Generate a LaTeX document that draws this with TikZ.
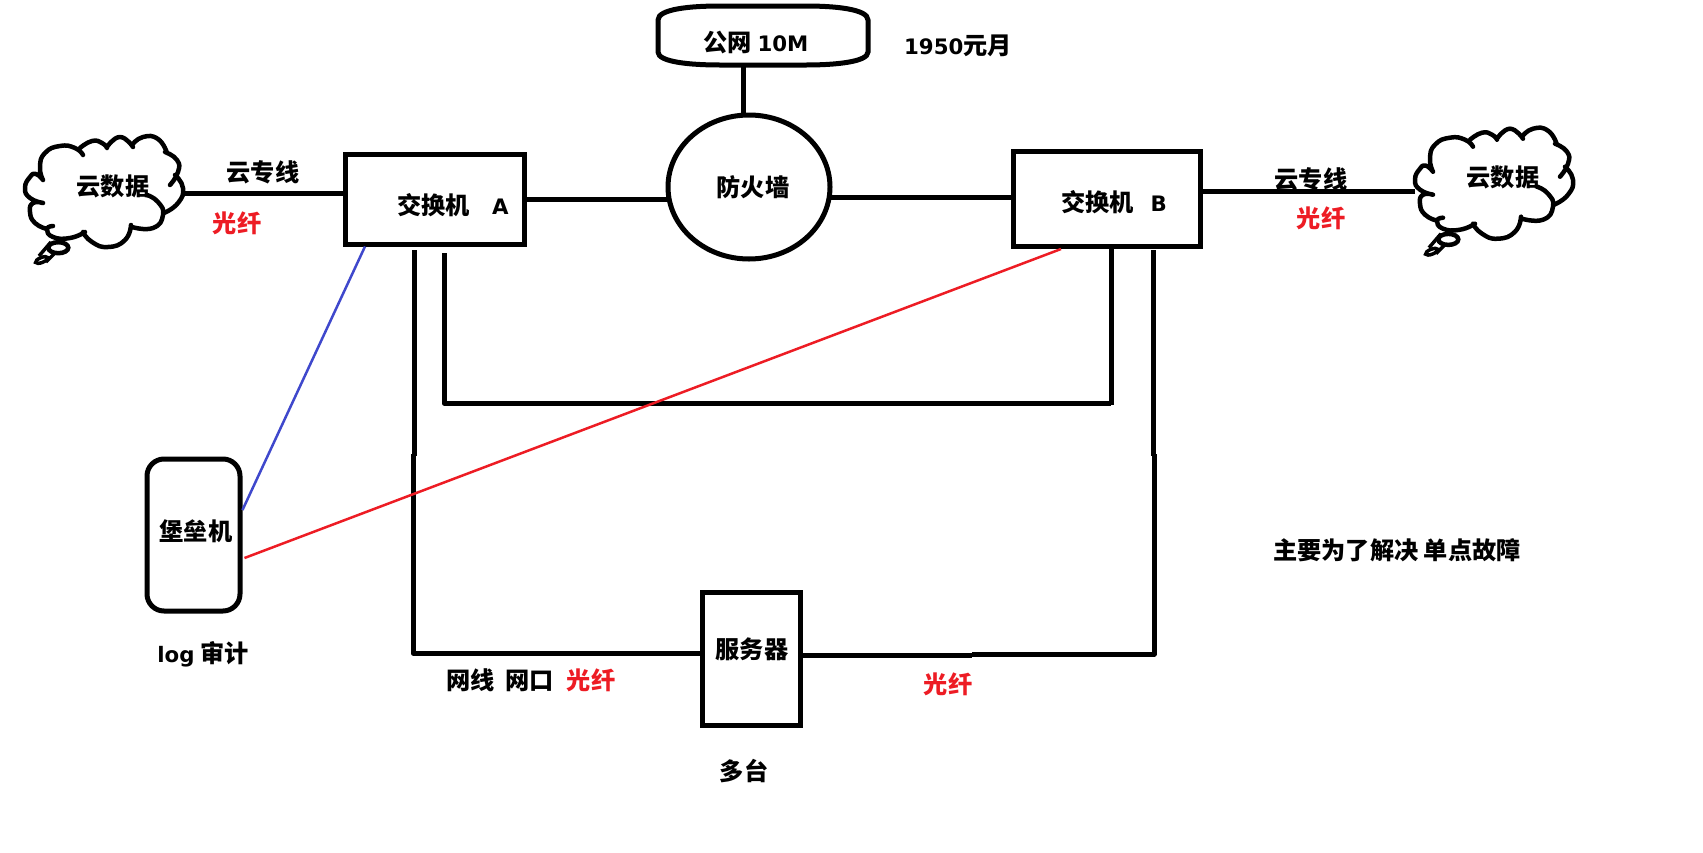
\documentclass[tikz,border=0pt]{standalone}
\usepackage{fontspec}
\usepackage{color}
\setmainfont{Noto Sans CJK SC}
\newfontfamily\latinfont{DejaVu Sans}[Scale=0.88]
\usetikzlibrary{calc,shapes.geometric}
\definecolor{paintred}{RGB}{237,28,36}
\definecolor{paintblue}{RGB}{63,72,204}
\tikzset{
  thick line/.style={draw=black,line width=5pt,line join=round},
  thin line/.style={line width=2.5pt},
  box/.style={draw=black,line width=5pt,minimum width=#1,inner sep=0pt},
  txt/.style={inner sep=0pt,font=\fontsize{24.2}{24.2}\selectfont\bfseries},
  redtxt/.style={txt,text=paintred},
  thoughtcloud/.pic={
    \path[draw=black,line width=4.5pt,line cap=round,line join=round,smooth,tension=0.9]
      plot coordinates {(33,60) (30,47) (35,33) (50,26) (65,28) (73,35)}
      plot coordinates {(70,28) (82,21) (92,23) (97,28)}
      plot coordinates {(97,27) (110,17) (123,27)}
      plot coordinates {(122,25) (133,17) (148,19) (157,33)}
      plot coordinates {(155,32) (167,40) (168,52) (160,65)}
      plot coordinates {(165,55) (173,68) (168,83) (154,93)}
      plot coordinates {(137,75) (148,82) (153,95) (143,108) (122,107)}
      plot coordinates {(121,105) (115,120) (98,127) (82,122) (73,112)}
      plot coordinates {(75,112) (60,118) (43,117) (37,109) (43,106)}
      plot coordinates {(37,109) (25,103) (20,92) (23,83) (33,83)}
      plot coordinates {(33,83) (20,78) (15,68) (20,57) (26,54) (33,60)};
    \path[draw=black,line width=4.5pt] (48.3,127.7) ellipse [x radius=10,y radius=5.5];
    \path[draw=black,line width=3.5pt] (31.7,140) [rotate around={22:(31.7,140)}] ellipse [x radius=6.5,y radius=2.5];
    \path[draw=black,line width=3.5pt] (41,122) -- (29,136);
    \path[draw=black,line width=3.5pt] (45,133) -- (36,142);
  }
}
\begin{document}
\begin{tikzpicture}[x=1pt,y=-1pt]
\useasboundingbox (0,0) rectangle (1703,852);
% clouds:
\pic at (10,120) {thoughtcloud};
\pic at (1400,111.7) {thoughtcloud};
\coordinate (cloudLport) at (182,193);
\coordinate (cloudRport) at (1415,191.5);
\node[txt] (cloudLtext) at (113,186) {云数据};
\node[txt] (cloudRtext) at (1503,177) {云数据};
% boxes:
\node[box=179pt,minimum height=90pt] (swA) at (435,199) {};
\node[box=187pt,minimum height=95pt] (swB) at (1107,199) {};
\node[box=98pt,minimum height=133pt] (server) at (751,658.5) {};
\node[box=93pt,minimum height=152pt,rounded corners=17pt] (bastion) at (193.5,535) {};
\node[draw=black,line width=5pt,ellipse,minimum width=162pt,minimum height=144pt,inner sep=0pt] (fw) at (749,187) {};
\node[minimum width=210pt,minimum height=59pt,inner sep=0pt] (pub) at (763,35.5) {};
\path[draw=black,line width=5pt] (658,20) .. controls (658,9) and (690,6) .. (720,6) -- (806,6)
  .. controls (835,6) and (868,9) .. (868,20) -- (868,52) .. controls (868,62) and (835,65) .. (806,65)
  -- (720,65) .. controls (690,65) and (658,62) .. (658,52) -- cycle;
% links along the top:
\coordinate (fwIn) at ([xshift=3pt]fw.west);
\coordinate (fwOut) at ([xshift=-3pt]fw.east);
\path[thick line] (cloudLport) -- (cloudLport -| swA.west);
\path[thick line] (swA.east) -- (swA.east -| fwIn);
\path[thick line] ([yshift=2pt]swB.west) -- ([yshift=2pt]swB.west -| fwOut);
\path[thick line] (cloudRport) -- (cloudRport -| swB.east);
\path[thick line] ([xshift=-6pt]fw.north) -- ([xshift=-6pt]fw.north |- pub.south);
% links from the switches:
\coordinate (aLeft) at (414,250);
\coordinate (aRight) at (444,253);
\coordinate (bLeft) at (1111,248);
\coordinate (bRight) at (1153,250);
\coordinate (ringL) at (444,403);
\coordinate (ringR) at (1111,405);
\path[thick line] (aRight) -- (ringL) -- (ringL -| bLeft);
\path[thick line] (bLeft) -- (ringR);
\coordinate (aJog) at (414,456);
\coordinate (aJogB) at (413,454);
\coordinate (aCorner) at (413,653);
\path[thick line] (aLeft) -- (aJog);
\path[thick line] (aJogB) -- (aCorner) -- (aCorner -| server.west);
\coordinate (bJog) at (1153,456);
\coordinate (bJogB) at (1154,454);
\coordinate (bCorner) at (1154,654);
\coordinate (sJog) at (972,655);
\path[thick line] (bRight) -- (bJog);
\path[thick line] (bJogB) -- (bCorner) -- (bCorner -| sJog);
\path[thick line] (sJog -| server.east) -- (sJog);
% thin links to the bastion host:
\path[draw=paintblue,thin line] ([xshift=22pt]swA.south west) -- ([yshift=25pt]bastion.east);
\path[draw=paintred,thin line] ([xshift=50pt]swB.south west) -- ([xshift=2pt,yshift=-23pt]bastion.east);
% labels:
\node[txt] (pubtext) at (756,43) {公网 {\latinfont 10M}};
\node[txt] (fee) at (958,46) {{\latinfont 1950}元月};
\node[txt] (fwtext) at (753,187) {防火墙};
\node[txt] (swAtext) at (453,205) {交换机\ \ \ \ {\latinfont A}};
\node[txt] (swBtext) at (1114,202) {交换机\ \ \ {\latinfont B}};
\node[txt] (lineL) at (263,172) {云专线};
\node[txt] (lineR) at (1311,179) {云专线};
\node[redtxt] (fiberL) at (237,223) {光纤};
\node[redtxt] (fiberR) at (1321,218) {光纤};
\node[txt] (bastiontext) at (196,531) {堡垒机};
\node[txt] (logtext) at (203,654) {{\latinfont log} 审计};
\node[txt] (port) at (500,680) {网线\ \ 网口};
\node[redtxt] (fiberA) at (591,680) {光纤};
\node[txt] (servertext) at (752,649) {服务器};
\node[redtxt] (fiberB) at (948,684) {光纤};
\node[txt] (many) at (744,771) {多台};
\node[txt] (goal) at (1397,550) {主要为了解决 单点故障};
\end{tikzpicture}
\end{document}
